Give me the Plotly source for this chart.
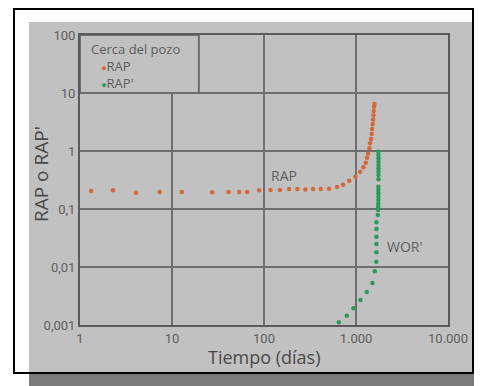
import plotly.graph_objects as go

# ---- data ----
rap_t = [1.32, 2.28, 4.06, 7.33, 12.8, 27.3, 41.2, 53.7, 65.6, 88.5,
         117.8, 148.6, 187.6, 231, 282, 342, 414, 510, 622, 724, 842, 986,
         1107, 1205, 1276, 1318, 1352, 1400, 1422, 1458, 1483, 1494, 1521,
         1534, 1548, 1559, 1571, 1584]
rap_v = [0.204, 0.21, 0.191, 0.197, 0.197, 0.195, 0.197, 0.197, 0.197, 0.21,
         0.213, 0.213, 0.221, 0.221, 0.216, 0.221, 0.221, 0.224, 0.239, 0.263,
         0.308, 0.361, 0.44, 0.523, 0.63, 0.767, 0.91, 1.11, 1.36, 1.61, 1.96,
         2.4, 2.89, 3.46, 4.12, 4.89, 5.81, 6.46]

rapd_t = [1750, 1752, 1755, 1755, 1755, 1755, 1755, 1755, 1755, 1750, 1750,
          1750, 1750, 1750, 1745, 1745, 1740, 1730, 1725, 1668, 1668, 1668,
          1668, 1668, 1660, 1599, 1509, 1309, 1118, 938, 794, 650]
rapd_v = [0.97, 0.853, 0.748, 0.654, 0.574, 0.504, 0.44, 0.385, 0.325, 0.242,
          0.213, 0.187, 0.163, 0.143, 0.125, 0.11, 0.096, 0.0788, 0.099, 0.059,
          0.0452, 0.0333, 0.0249, 0.0179, 0.0123, 0.00843, 0.0053, 0.0037,
          0.0027, 0.00194, 0.00145, 0.00111]

x_ticks = [1, 10, 100, 1000, 10000]
x_ticktext = ["1", "10", "100", "1.000", "10.000"]
y_ticks = [0.001, 0.01, 0.1, 1, 10, 100]
y_ticktext = ["0,001", "0,01", "0,1", "1", "10", "100"]

ORANGE = "#d4683a"
GREEN = "#2a9c5a"
TXT = "#5e5e5e"
GRID = "#6e6e6e"
FONT = "Roboto"
FONT2 = "Open Sans"

pairs = sorted(zip(rapd_t, rapd_v), key=lambda p: -p[1])

fig = go.Figure()
fig.add_trace(go.Scatter(x=rap_t, y=rap_v, mode="markers", name="RAP",
                         marker=dict(color=ORANGE, size=4.5), showlegend=False))
fig.add_trace(go.Scatter(x=[p[0] for p in pairs], y=[p[1] for p in pairs],
                         mode="markers", name="RAP'",
                         marker=dict(color=GREEN, size=4.5), showlegend=False))

OFF = 8  # page body margin
W, H = 474, 378
L, T = 72, 27
PW, PH = 368, 290
R = W - L - PW
B = H - T - PH


def px(sx):
    return (sx - OFF - L) / PW


def py(sy):
    return (H - B - (sy - OFF)) / PH


shapes = [
    dict(type="rect", xref="paper", yref="paper", x0=px(29), x1=px(490),
         y0=py(394), y1=py(22), fillcolor="#7a7a7a", line=dict(width=0),
         layer="below"),
    dict(type="rect", xref="paper", yref="paper", x0=px(14), x1=px(473),
         y0=py(373), y1=py(9), fillcolor="white",
         line=dict(color="black", width=2), layer="below"),
    dict(type="rect", xref="paper", yref="paper", x0=px(29), x1=px(472),
         y0=py(372), y1=py(22), fillcolor="#c1c1c1", line=dict(width=0),
         layer="below"),
    dict(type="rect", xref="x", yref="y", x0=1, x1=19.6, y0=10, y1=100,
         fillcolor="#c1c1c1", line=dict(color=GRID, width=2),
         layer="between"),
]


def ann(text, sx, sy, size=14, color=TXT, xanchor="center", angle=0,
        yanchor="middle"):
    return dict(text=text, x=px(sx), y=py(sy), xref="paper", yref="paper",
                xanchor=xanchor, yanchor=yanchor, showarrow=False,
                align="left", textangle=angle,
                font=dict(family=FONT2, size=size, color=color))


dot = "<span style='color:{};font-size:9px'>●</span>"
legend_text = ("Cerca del pozo<br>"
               "&nbsp;&nbsp;&nbsp;" + dot.format(ORANGE) + "RAP<br>"
               "&nbsp;&nbsp;&nbsp;" + dot.format(GREEN) + "RAP'")
annotations = [
    ann(legend_text, 89, 38, size=13, xanchor="left", yanchor="top"),
    ann("RAP", 284, 175),
    ann("WOR'", 405, 246),
    ann("Tiempo (días)", 264, 357, size=18, color="#4a4a4a"),
    ann("RAP o RAP'", 41, 174, size=19, color="#4a4a4a", angle=-90),
]

fig.update_layout(
    width=W, height=H,
    margin=dict(l=L, r=R, t=T, b=B),
    paper_bgcolor="white",
    plot_bgcolor="#c1c1c1",
    shapes=shapes,
    annotations=annotations,
    font=dict(family=FONT, color=TXT, size=13),
)
axis_common = dict(type="log", showgrid=True, gridcolor=GRID, gridwidth=2,
                   showline=True, linecolor="#5a5a5a", linewidth=2,
                   mirror=True, ticks="", zeroline=False,
                   tickfont=dict(family=FONT, size=13, color=TXT))
fig.update_xaxes(range=[0, 4], tickvals=x_ticks, ticktext=x_ticktext,
                 **axis_common)
fig.update_yaxes(range=[-3, 2], tickvals=y_ticks, ticktext=y_ticktext,
                 **axis_common)

fig.write_html("out.html")
